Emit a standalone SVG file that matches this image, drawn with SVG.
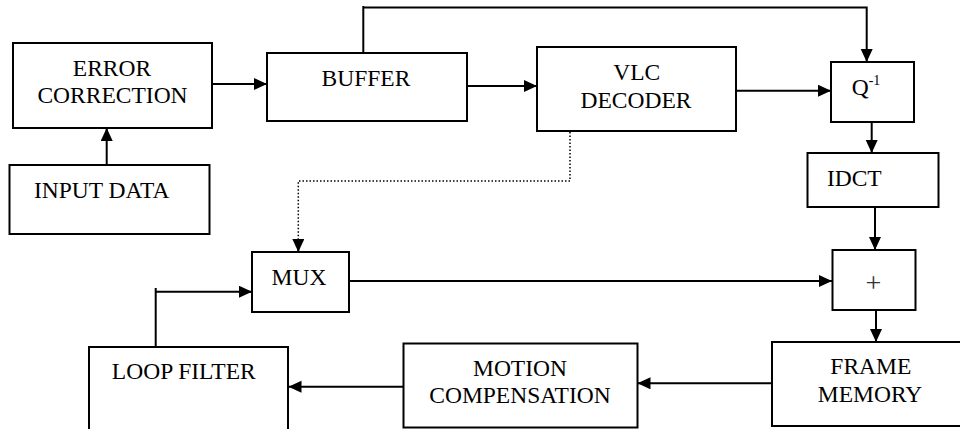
<svg xmlns="http://www.w3.org/2000/svg" width="960" height="429" viewBox="0 0 960 429" font-family="Liberation Serif, Times New Roman, serif">
  <defs>
    <marker id="arrow" markerUnits="userSpaceOnUse" markerWidth="14" markerHeight="13" refX="13" refY="6" orient="auto">
      <path d="M0,0 L13,6 L0,12 z" fill="#000"/>
    </marker>
  </defs>
  <style>
    .box { fill: #fff; stroke: #000; stroke-width: 2; }
    .lbl { font-size: 23.5px; fill: #000; text-anchor: middle; }
    .wire { fill: none; stroke: #000; stroke-width: 2; }
    .dot { fill: none; stroke: #000; stroke-width: 1.5; stroke-dasharray: 1.5 2; }
  </style>

  <rect width="960" height="429" fill="#fff"/>

  <!-- connectors -->
  <g id="connectors">
    <line class="wire" x1="106.7" y1="165" x2="106.7" y2="128" marker-end="url(#arrow)"/>
    <line class="wire" x1="212" y1="84" x2="267" y2="84" marker-end="url(#arrow)"/>
    <line class="wire" x1="467" y1="86" x2="537" y2="86" marker-end="url(#arrow)"/>
    <line class="wire" x1="736" y1="90.7" x2="831" y2="90.7" marker-end="url(#arrow)"/>
    <polyline class="wire" points="363.3,53 363.3,6 363.3,7.5 866.7,7.5 866.7,62" marker-end="url(#arrow)"/>
    <line class="wire" x1="871.7" y1="122" x2="871.7" y2="153" marker-end="url(#arrow)"/>
    <line class="wire" x1="875" y1="207" x2="875" y2="250" marker-end="url(#arrow)"/>
    <line class="wire" x1="349" y1="281" x2="832" y2="281" marker-end="url(#arrow)"/>
    <line class="wire" x1="876" y1="310" x2="876" y2="342" marker-end="url(#arrow)"/>
    <line class="wire" x1="772" y1="383.3" x2="637.5" y2="383.3" marker-end="url(#arrow)"/>
    <line class="wire" x1="403" y1="386.7" x2="288.5" y2="386.7" marker-end="url(#arrow)"/>
    <line class="wire" x1="155.7" y1="347" x2="155.7" y2="288"/>
    <line class="wire" x1="155.7" y1="291.7" x2="252" y2="291.7" marker-end="url(#arrow)"/>
    <polyline class="dot" points="570,132 570,181 298.3,181 298.3,240"/>
    <line class="wire" x1="298.3" y1="239" x2="298.3" y2="252" marker-end="url(#arrow)"/>
  </g>

  <g id="error-correction">
    <rect class="box" x="13" y="43" width="199" height="85"/>
    <text class="lbl" x="112" y="76" font-family="Liberation Serif, serif">ERROR</text>
    <text class="lbl" x="112.5" y="103" font-family="Liberation Serif, serif">CORRECTION</text>
  </g>

  <g id="input-data">
    <rect class="box" x="9.5" y="165" width="200" height="69"/>
    <text class="lbl" x="101.7" y="198" font-family="Liberation Serif, serif">INPUT DATA</text>
  </g>

  <g id="buffer">
    <rect class="box" x="267" y="53" width="200" height="68"/>
    <text class="lbl" x="366" y="86" font-family="Liberation Serif, serif">BUFFER</text>
  </g>

  <g id="vlc-decoder">
    <rect class="box" x="537" y="47" width="199" height="84"/>
    <text class="lbl" x="636.7" y="80" font-family="Liberation Serif, serif">VLC</text>
    <text class="lbl" x="636" y="108" font-family="Liberation Serif, serif">DECODER</text>
  </g>

  <g id="inverse-quantizer">
    <rect class="box" x="831" y="62" width="83" height="60"/>
    <text class="lbl" x="851.7" y="94.5" font-family="Liberation Serif, serif" text-anchor="start" style="text-anchor:start">Q<tspan font-size="14" dy="-9.5">-1</tspan></text>
  </g>

  <g id="idct">
    <rect class="box" x="807.5" y="153" width="131" height="54"/>
    <text class="lbl" x="854.3" y="186" font-family="Liberation Serif, serif">IDCT</text>
  </g>

  <g id="adder">
    <rect class="box" x="832.5" y="250" width="83" height="60"/>
    <text class="lbl" x="873.5" y="291.5" font-family="Liberation Serif, serif" font-size="28" style="font-size:28px;fill:#333">+</text>
  </g>

  <g id="mux">
    <rect class="box" x="252" y="252" width="97" height="60"/>
    <text class="lbl" x="299" y="285" font-family="Liberation Serif, serif">MUX</text>
  </g>

  <g id="loop-filter">
    <rect class="box" x="89" y="347" width="199" height="100"/>
    <text class="lbl" x="183.8" y="379.3" font-family="Liberation Serif, serif">LOOP FILTER</text>
  </g>

  <g id="motion-compensation">
    <rect class="box" x="403.5" y="343.5" width="234" height="84"/>
    <text class="lbl" x="520" y="376" font-family="Liberation Serif, serif">MOTION</text>
    <text class="lbl" x="520" y="402.7" font-family="Liberation Serif, serif">COMPENSATION</text>
  </g>

  <g id="frame-memory">
    <rect class="box" x="772" y="342" width="200" height="84"/>
    <text class="lbl" x="870.8" y="374" font-family="Liberation Serif, serif">FRAME</text>
    <text class="lbl" x="870" y="401.7" font-family="Liberation Serif, serif">MEMORY</text>
  </g>
</svg>
